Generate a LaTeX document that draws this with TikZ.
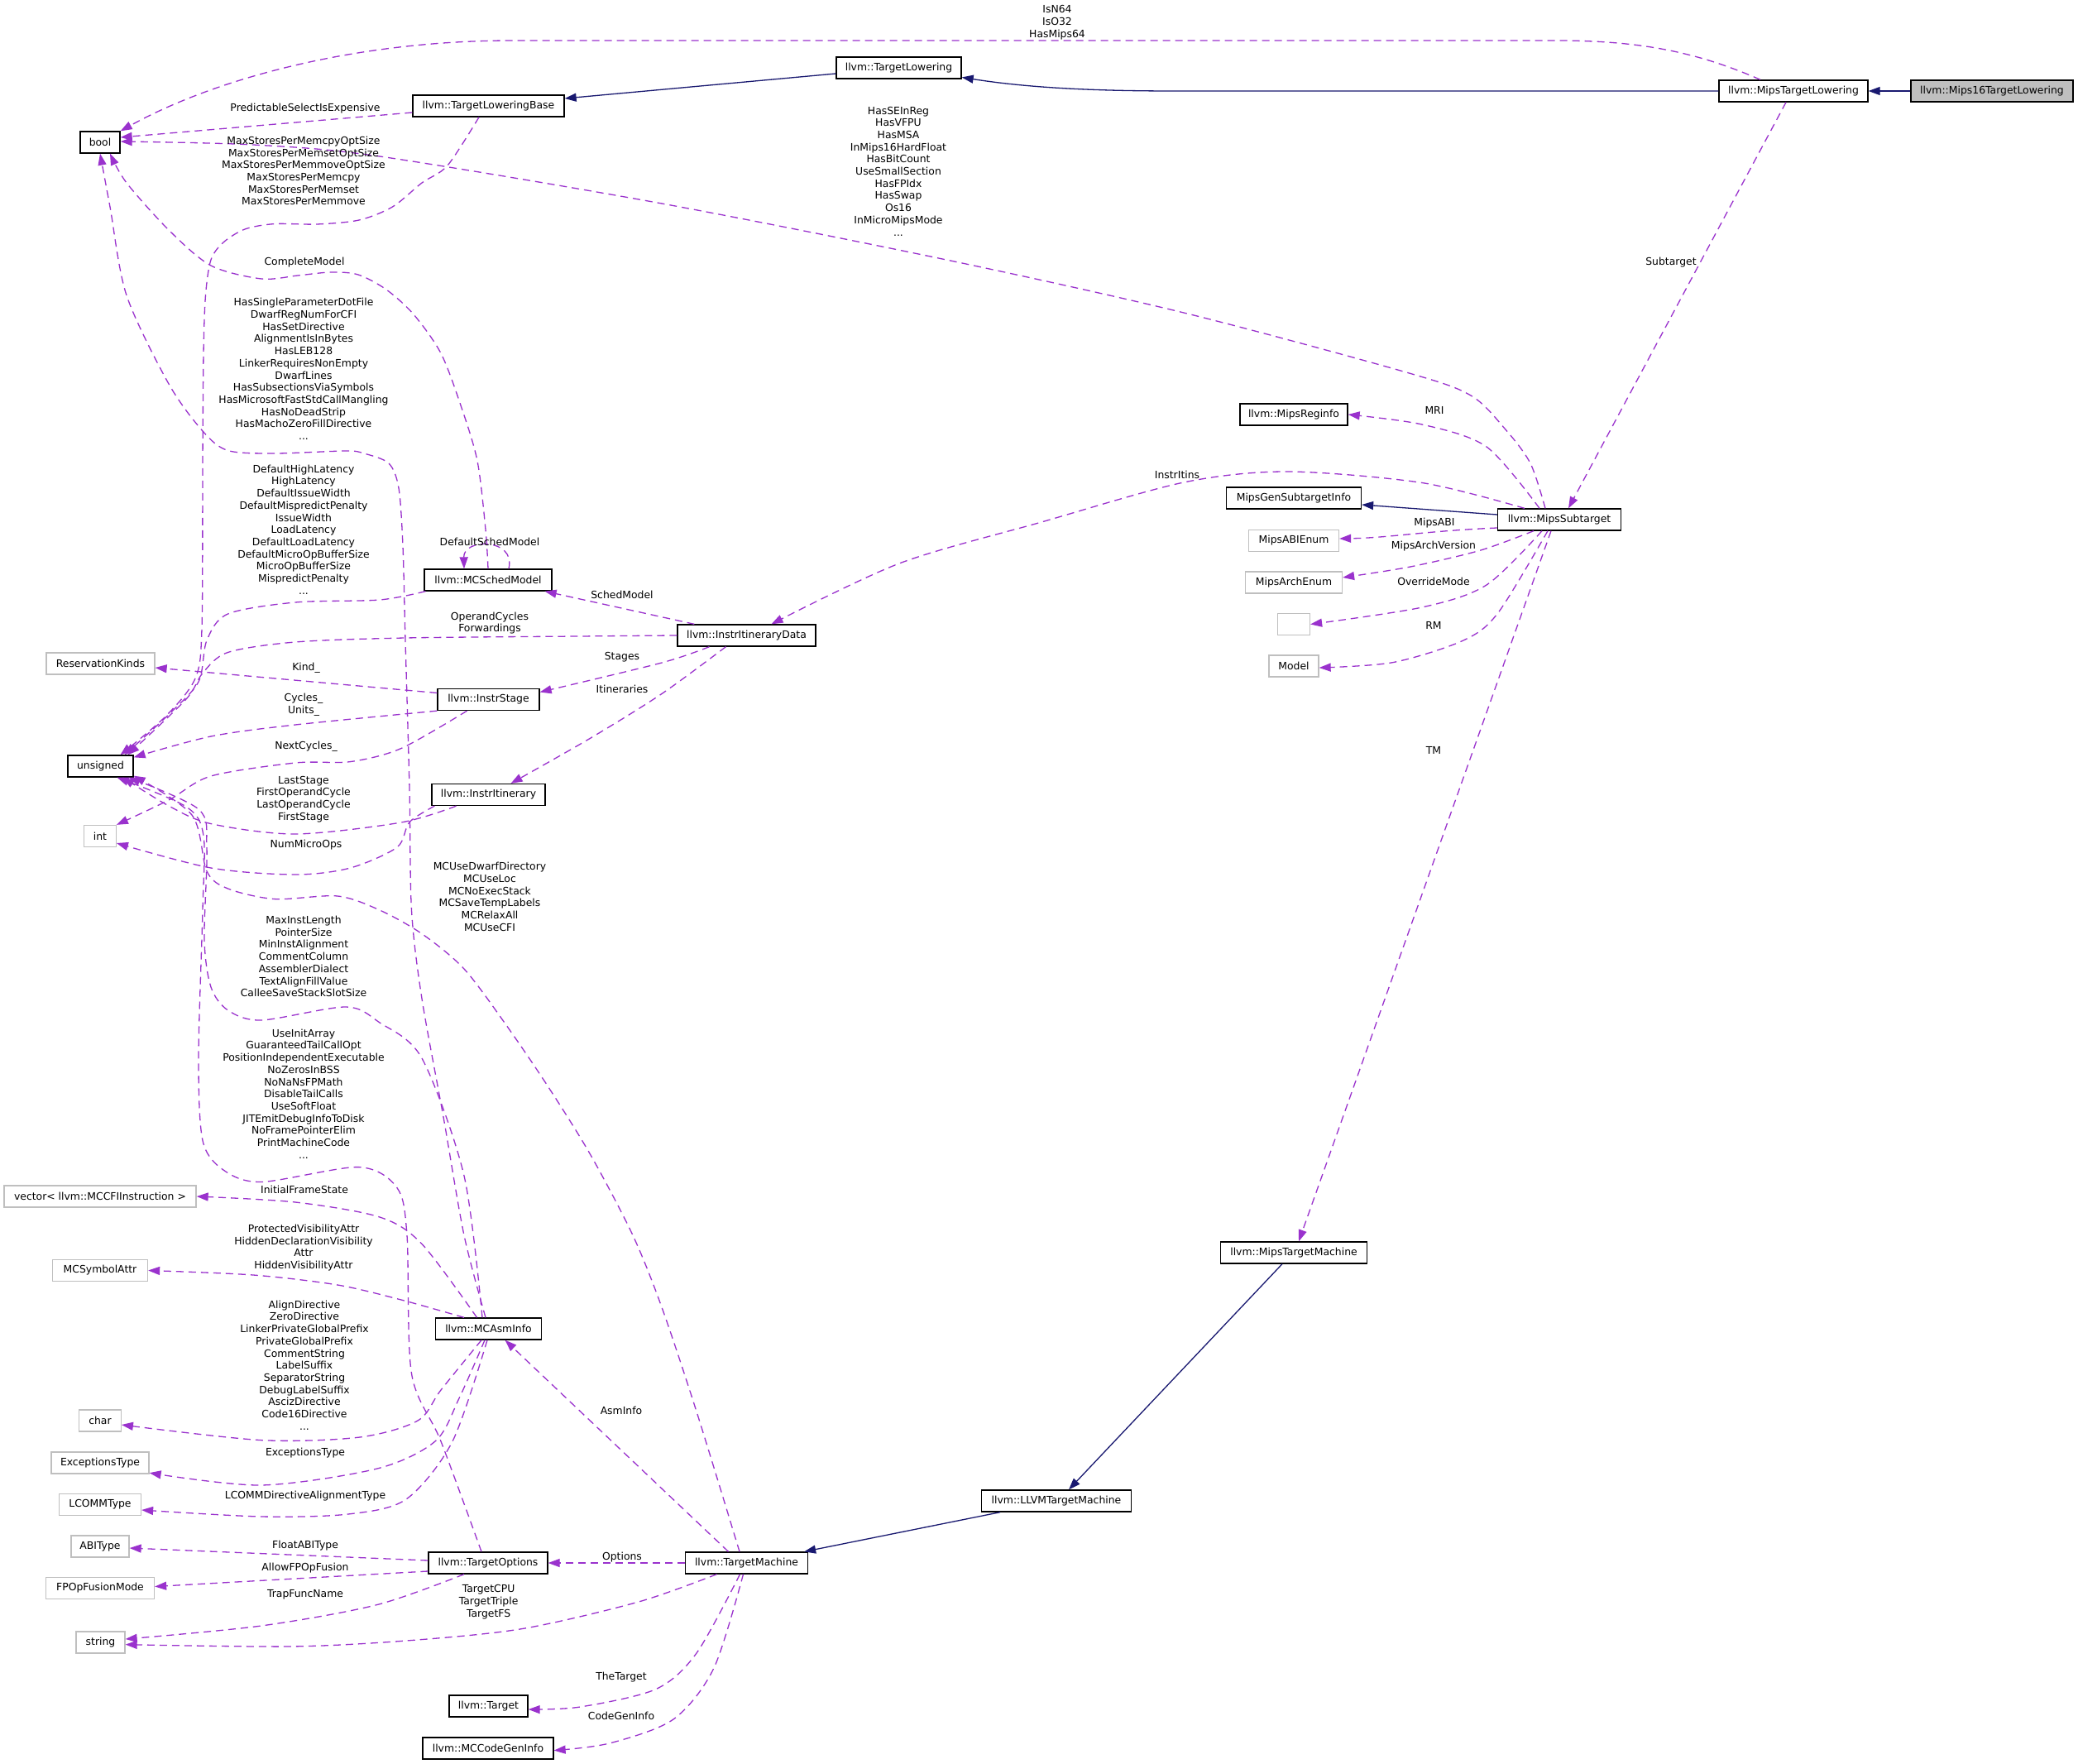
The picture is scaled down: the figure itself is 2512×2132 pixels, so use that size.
\documentclass[tikz,border=0pt]{standalone}
\usepackage{fontspec}
\setmainfont{DejaVu Sans}
\usetikzlibrary{arrows.meta}
\definecolor{orch}{HTML}{9A32CD}
\definecolor{mnb}{HTML}{191970}
\definecolor{gbd}{HTML}{BFBFBF}
\newcommand\lblfont{\fontsize{12.4}{14.7}\selectfont}
\begin{document}
\begin{tikzpicture}[x=1pt,y=-1pt,
  box/.style={draw=black, line width=1.3pt, fill=white, inner sep=0pt, minimum height=26pt, font=\lblfont},
  gbox/.style={box, draw=gbd},
  lab/.style={align=center, inner sep=0pt, font=\lblfont},
  usage/.style={draw=orch, line width=1.3pt, dash pattern=on 9pt off 6pt, -{Triangle[length=14pt,width=10pt]}},
  inher/.style={draw=mnb, line width=1.3pt, -{Triangle[length=14pt,width=10pt]}}]
\useasboundingbox (0,0) rectangle (2512,2132);
\fill[white] (0,0) rectangle (2512,2132);

% ---------- nodes ----------
\node[box, fill=gbd, minimum width=196pt] (m16) at (2408,110) {llvm::Mips16TargetLowering};
\node[box, minimum width=180pt] (mtl) at (2168,110) {llvm::MipsTargetLowering};
\node[box, minimum width=151pt] (tl) at (1086.5,82) {llvm::TargetLowering};
\node[box, minimum width=183pt] (tlb) at (590.5,128) {llvm::TargetLoweringBase};
\node[box, minimum width=48pt] (bool) at (121,172) {bool};
\node[box, minimum width=130pt] (mri) at (1564,501) {llvm::MipsReginfo};
\node[box, minimum width=163pt] (mgsi) at (1564,602) {MipsGenSubtargetInfo};
\node[gbox, minimum width=109pt] (abie) at (1564,653.5) {MipsABIEnum};
\node[gbox, minimum width=117pt] (arche) at (1564,704) {MipsArchEnum};
\node[gbox, minimum width=39pt] (empty) at (1564,754.5) {};
\node[gbox, minimum width=60pt] (model) at (1564,805) {Model};
\node[box, minimum width=149pt] (mst) at (1885,628) {llvm::MipsSubtarget};
\node[box, minimum width=154pt] (msm) at (590,701) {llvm::MCSchedModel};
\node[box, minimum width=167pt] (iid) at (902.5,768) {llvm::InstrItineraryData};
\node[gbox, minimum width=131pt] (rk) at (121.5,802) {ReservationKinds};
\node[box, minimum width=123pt] (is) at (590.5,845.5) {llvm::InstrStage};
\node[box, minimum width=79pt] (uns) at (121.5,926) {unsigned};
\node[box, minimum width=137pt] (ii) at (590.5,960.5) {llvm::InstrItinerary};
\node[gbox, minimum width=38.5pt] (int) at (121,1010.5) {int};
\node[gbox, minimum width=232pt] (vec) at (121,1446) {vector< llvm::MCCFIInstruction >};
\node[gbox, minimum width=115pt] (sym) at (121,1535.5) {MCSymbolAttr};
\node[box, minimum width=128pt] (mcasm) at (590.5,1606) {llvm::MCAsmInfo};
\node[gbox, minimum width=50.6pt] (char) at (121,1717) {char};
\node[gbox, minimum width=118pt] (exc) at (121,1768) {ExceptionsType};
\node[gbox, minimum width=99pt] (lcomm) at (121,1818.5) {LCOMMType};
\node[gbox, minimum width=70pt] (abi) at (121,1869) {ABIType};
\node[gbox, minimum width=131pt] (fpo) at (121,1919.5) {FPOpFusionMode};
\node[gbox, minimum width=59pt] (str) at (121.5,1985) {string};
\node[box, minimum width=144pt] (to) at (590,1889) {llvm::TargetOptions};
\node[box, minimum width=148pt] (tm) at (902.5,1889) {llvm::TargetMachine};
\node[box, minimum width=95pt] (tgt) at (590.5,2062) {llvm::Target};
\node[box, minimum width=158pt] (cgi) at (590,2113) {llvm::MCCodeGenInfo};
\node[box, minimum width=180.5pt] (ltm) at (1277,1814) {llvm::LLVMTargetMachine};
\node[box, minimum width=176.5pt] (mtm) at (1564,1514) {llvm::MipsTargetMachine};

% ---------- inheritance ----------
\draw[inher] (m16.west) -- (mtl.east);
\draw[inher] (mtl.west) -- (1420,110) .. controls (1300,110) and (1230,104) .. ([yshift=-11.5pt]tl.east);
\draw[inher] ([yshift=-7pt]tl.west) -- ([yshift=9pt]tlb.east);
\draw[inher] ([yshift=6pt]mst.west) -- ([yshift=-8pt]mgsi.east);
\draw[inher] ([xshift=-14pt]mtm.south) -- ([xshift=15pt]ltm.north);
\draw[inher] ([xshift=23pt]ltm.south west) -- ([xshift=-5pt]tm.north east);

% ---------- usage edges ----------
\draw[usage] ([xshift=-40pt]mtl.north) .. controls (2050,62) and (1980,49) .. (1880,49) -- (620,49) .. controls (430,49) and (260,95) .. (bool.north east);
\node[lab] (lIsN) at (1278,27) {IsN64\\IsO32\\HasMips64};

\draw[usage] ([yshift=-8pt]tlb.west) -- ([yshift=6pt]bool.east);
\node[lab] (lPred) at (369,131) {PredictableSelectIsExpensive};

\draw[usage] plot[smooth] coordinates {([xshift=-17pt]mst.north) (1850,560) (1819,518) (1778,478) (1700,450) (1431,378) (1144,314) (800,246) (459,189) (306,175) ([yshift=1pt]bool.east)};
\node[lab] (lSE) at (1086,207) {HasSEInReg\\HasVFPU\\HasMSA\\InMips16HardFloat\\HasBitCount\\UseSmallSection\\HasFPIdx\\HasSwap\\Os16\\InMicroMipsMode\\...};

\draw[usage] ([xshift=-9pt]mtl.south) -- ([xshift=11pt]mst.north);
\node[lab] (lSub) at (2020,317) {Subtarget};

\draw[usage] plot[smooth] coordinates {([xshift=-11.5pt]tlb.south) (541,200) (510,221) (474.5,250) (434,266) (383,271) (331.6,270.6) (296,277) (270,293) (255,314) (248.5,357) (246,428) (245,560) (244,760) (236,820) (200,866) ([xshift=24pt]uns.north)};
\node[lab] (lMax) at (367,206.5) {MaxStoresPerMemcpyOptSize\\MaxStoresPerMemsetOptSize\\MaxStoresPerMemmoveOptSize\\MaxStoresPerMemcpy\\MaxStoresPerMemset\\MaxStoresPerMemmove};

\draw[usage] plot[smooth] coordinates {(msm.north) (587,640) (577,557) (557,490) (533,427) (500,380) (467,350) (433,332) (400,329) (360,333) (316,337) (255,321) (204,278) (153,221) ([xshift=12pt]bool.south)};
\node[lab] (lCM) at (368,317) {CompleteModel};

\draw[usage] plot[smooth] coordinates {([xshift=-3.5pt]mcasm.north) (561,1493) (536,1350) (510,1207) (497.5,1100) (495,953) (490,774) (487,660) (482,590) (470,560) (440,548) (418,545) (332,548) (275.5,544.5) (245,521) (204,464) (153,357) (133,250) (bool.south)};
\node[lab] (lHS) at (367,446) {HasSingleParameterDotFile\\DwarfRegNumForCFI\\HasSetDirective\\AlignmentIsInBytes\\HasLEB128\\LinkerRequiresNonEmpty\\DwarfLines\\HasSubsectionsViaSymbols\\HasMicrosoftFastStdCallMangling\\HasNoDeadStrip\\HasMachoZeroFillDirective\\...};

\draw[usage] plot[smooth] coordinates {([xshift=2pt]msm.south west) (459,725) (357,728) (275.5,742) (250,774) (240,824) (204,863.5) ([xshift=29pt]uns.north)};
\node[lab] (lDH) at (367,640) {DefaultHighLatency\\HighLatency\\DefaultIssueWidth\\DefaultMispredictPenalty\\IssueWidth\\LoadLatency\\DefaultLoadLatency\\DefaultMicroOpBufferSize\\MicroOpBufferSize\\MispredictPenalty\\...};

\draw[usage] ([xshift=25pt]msm.north) .. controls (624,650) and (560,650) .. ([xshift=-29pt]msm.north);
\node[lab] (lDSM) at (592,655) {DefaultSchedModel};

\draw[usage] ([xshift=21pt]iid.north west) -- ([xshift=-9pt]msm.south east);
\node[lab] (lSM) at (752,719) {SchedModel};

\draw[usage] plot[smooth] coordinates {(iid.west) (700,769) (490,771) (357,776) (275.5,788.5) (245,813.5) (224.5,845.6) ([xshift=33pt]uns.north)};
\node[lab] (lOC) at (592,753) {OperandCycles\\Forwardings};

\draw[usage] ([yshift=8pt]is.west) -- ([yshift=-5pt]rk.east);
\node[lab] (lKind) at (370,807) {Kind\_};

\draw[usage] plot[smooth] coordinates {(is.south west) (357,876) (255,890) ([yshift=-3pt]uns.north east)};
\node[lab] (lCyc) at (367,852) {Cycles\_\\Units\_};

\draw[usage] plot[smooth] coordinates {([xshift=-26pt]is.south) (485,904.5) (423.5,920.6) (357,922) (255,938) (204,967) (int.north east)};
\node[lab] (lNC) at (370,902) {NextCycles\_};

\draw[usage] plot[smooth] coordinates {([xshift=-45pt]iid.south) (800,801) ([yshift=9pt]is.east)};
\node[lab] (lSt) at (752,794) {Stages};

\draw[usage] plot[smooth] coordinates {([xshift=-25pt]iid.south) (800,838.5) (714,892) ([xshift=27pt]ii.north)};
\node[lab] (lIt) at (752,833) {Itineraries};

\draw[usage] plot[smooth] coordinates {([xshift=-39pt]ii.south) (485,994) (357,1008) (255,995.6) (204,974) ([xshift=27pt]uns.south)};
\node[lab] (lLS) at (367,966) {LastStage\\FirstOperandCycle\\LastOperandCycle\\FirstStage};

\draw[usage] plot[smooth] coordinates {([xshift=4pt]ii.south west) (495,993.6) (480,1024) (423.5,1049) (357,1057) (255,1049) ([yshift=-8.5pt]int.east)};
\node[lab] (lNM) at (370,1021) {NumMicroOps};

\draw[usage] plot[smooth] coordinates {([xshift=-8.5pt]tm.north) (842,1706) (800,1580) (765,1493) (714,1396) (663,1314) (612,1239) (561,1171) (510,1128.6) (459,1100) (408,1083) (332,1086.6) (275.5,1074) (250,1053) (232,985) ([yshift=2pt]uns.south east)};
\node[lab] (lMCU) at (592,1084) {MCUseDwarfDirectory\\MCUseLoc\\MCNoExecStack\\MCSaveTempLabels\\MCRelaxAll\\MCUseCFI};

\draw[usage] plot[smooth] coordinates {([xshift=-7.5pt]mcasm.north) (561,1421) (510,1279) (459,1236) (418,1217) (316,1233) (275.5,1221) (255,1193) (247,1136) (250,1024) (240,978) ([xshift=34pt]uns.south)};
\node[lab] (lMIL) at (367,1156) {MaxInstLength\\PointerSize\\MinInstAlignment\\CommentColumn\\AssemblerDialect\\TextAlignFillValue\\CalleeSaveStackSlotSize};

\draw[usage] plot[smooth] coordinates {([xshift=-8pt]to.north) (533,1742) (497.5,1660) (492,1493) (480,1435.6) (433.7,1410.6) (316,1428.5) (270,1414) (245,1378.5) (240,1278.6) (245,1100) (246,1010) (225,975) ([xshift=20pt]uns.south)};
\node[lab] (lUIA) at (367,1322) {UseInitArray\\GuaranteedTailCallOpt\\PositionIndependentExecutable\\NoZerosInBSS\\NoNaNsFPMath\\DisableTailCalls\\UseSoftFloat\\JITEmitDebugInfoToDisk\\NoFramePointerElim\\PrintMachineCode\\...};

\draw[usage] plot[smooth] coordinates {([xshift=-14pt]mcasm.north) (510,1503.5) (459,1471) (357,1453) (vec.east)};
\node[lab] (lIFS) at (368,1438) {InitialFrameState};

\draw[usage] plot[smooth] coordinates {([xshift=-29.5pt]mcasm.north) (485,1571) (408,1553) (306,1541) (sym.east)};
\node[lab] (lPVA) at (367,1508) {ProtectedVisibilityAttr\\HiddenDeclarationVisibility\\Attr\\HiddenVisibilityAttr};

\draw[usage] plot[smooth] coordinates {([xshift=-8.5pt]mcasm.south) (533,1680) (505,1717) (435,1737) (315.7,1740.6) ([yshift=-5pt]char.east)};
\node[lab] (lAD) at (368,1650) {AlignDirective\\ZeroDirective\\LinkerPrivateGlobalPrefix\\PrivateGlobalPrefix\\CommentString\\LabelSuffix\\SeparatorString\\DebugLabelSuffix\\AscizDirective\\Code16Directive\\...};

\draw[usage] plot[smooth] coordinates {([xshift=-4.5pt]mcasm.south) (555,1690) (526,1742) (456,1775) (315.7,1795) ([yshift=1.5pt]exc.south east)};
\node[lab] (lET) at (369,1756) {ExceptionsType};

\draw[usage] plot[smooth] coordinates {([xshift=-1.5pt]mcasm.south) (547,1742) (491,1812) (421,1830) (315.7,1833) ([yshift=-6.5pt]lcomm.east)};
\node[lab] (lLC) at (369,1808) {LCOMMDirectiveAlignmentType};

\draw[usage] ([xshift=-22pt]tm.north) -- ([xshift=20pt]mcasm.south);
\node[lab] (lAI) at (751,1705) {AsmInfo};

\draw[usage] ([yshift=3pt]to.west) -- ([yshift=-2pt]abi.east);
\node[lab] (lFA) at (369,1868) {FloatABIType};

\draw[usage] ([yshift=-10pt]to.west) -- ([yshift=2pt]fpo.east);
\node[lab] (lAF) at (369,1895.5) {AllowFPOpFusion};

\draw[usage] plot[smooth] coordinates {([xshift=-29pt]to.south) (456,1939.5) (315.7,1965) ([yshift=4pt]str.east)};
\node[lab] (lTF) at (369,1927.5) {TrapFuncName};

\draw[usage] plot[smooth] coordinates {([xshift=-36pt]tm.south) (772,1936) (631,1968.6) (491,1983) (351,1990) ([yshift=-2.6pt]str.east)};
\node[lab] (lTC) at (590.6,1936) {TargetCPU\\TargetTriple\\TargetFS};

\draw[usage] (tm.west) -- (to.east);
\node[lab] (lOp) at (752,1882) {Options};

\draw[usage] plot[smooth] coordinates {([xshift=-8pt]tm.south) (842,1998) (793,2041.5) (701.5,2063) ([yshift=-4pt]tgt.east)};
\node[lab] (lTT) at (751,2027.5) {TheTarget};

\draw[usage] plot[smooth] coordinates {([xshift=-4pt]tm.south) (863,2016) (814,2078) (736.6,2107) ([yshift=-2.6pt]cgi.east)};
\node[lab] (lCG) at (751,2073.5) {CodeGenInfo};

\draw[usage] ([xshift=-10pt]mst.south) -- ([xshift=6pt]mtm.north);
\node[lab] (lTM) at (1733,907) {TM};

\draw[usage] plot[smooth] coordinates {([xshift=-24pt]mst.north) (1797,540) (1719,513) (mri.east)};
\node[lab] (lMRI) at (1734,496) {MRI};

\draw[usage] plot[smooth] coordinates {([xshift=-42pt]mst.north) (1719,583.5) (1556,570) (1431,583) (1259,631) (1087,681) ([xshift=30pt]iid.north)};
\node[lab] (lII) at (1423,574) {InstrItins};

\draw[usage] ([yshift=-10pt]mst.west) .. controls (1720,642) and (1680,650) .. ([yshift=2.5pt]abie.east);
\node[lab] (lMA) at (1734,632) {MipsABI};

\draw[usage] plot[smooth] coordinates {([xshift=-31pt]mst.south) (1790,665) (1705,685) ([yshift=6pt]arche.east)};
\node[lab] (lMAV) at (1733,660) {MipsArchVersion};

\draw[usage] plot[smooth] coordinates {([xshift=-21pt]mst.south) (1797,707) (1719,734) (empty.east)};
\node[lab] (lOM) at (1733,703) {OverrideMode};

\draw[usage] plot[smooth] coordinates {([xshift=-14pt]mst.south) (1811,740.6) (1769,774) (1684,800.6) ([yshift=-2pt]model.east)};
\node[lab] (lRM) at (1733,756) {RM};
\end{tikzpicture}
\end{document}
